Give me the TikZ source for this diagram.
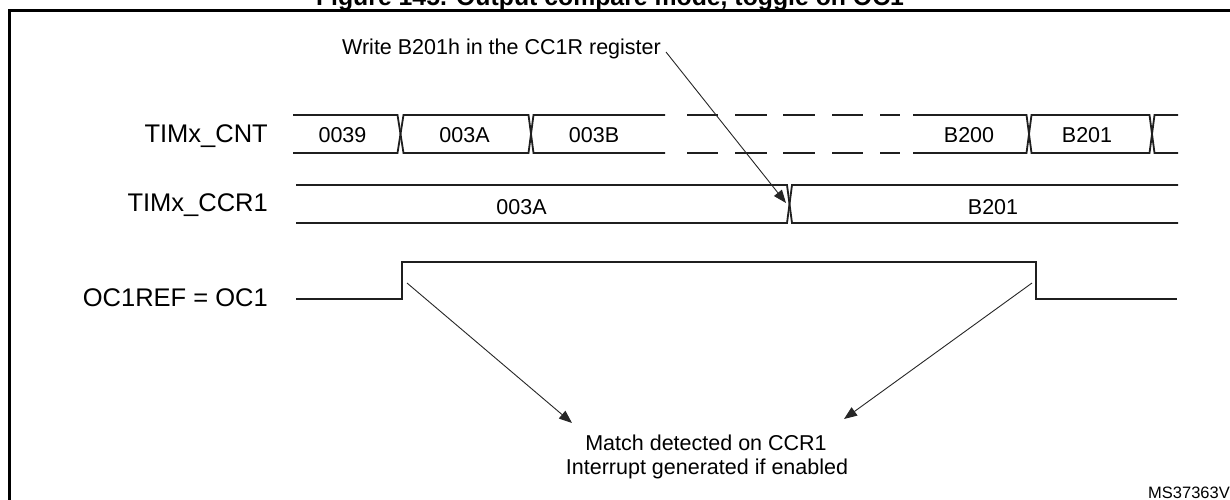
\documentclass[tikz,border=0pt]{standalone}
\usepackage{fontspec}
\setmainfont{Liberation Sans}
\usetikzlibrary{arrows.meta}
\begin{document}
\begin{tikzpicture}[x=1pt,y=-1pt,
  bus/.style={line width=1.8pt, draw=black!88, line join=miter},
  sig/.style={line width=2.2pt, draw=black!88},
  pointer/.style={line width=0.9pt, draw=black!85, -{Triangle[length=13pt,width=10pt]}},
  lbl/.style={font=\fontsize{25.5}{30}\selectfont, inner sep=0pt, anchor=base east},
  val/.style={font=\fontsize{21.5}{26}\selectfont, inner sep=0pt, anchor=base},
  frame/.style={line width=2.6pt, draw=black}]
\useasboundingbox (0,0) rectangle (1230,499);
\clip (0,0) rectangle (1230,499);

% title (cut off at top) and frame
\node[font=\bfseries\fontsize{24.8}{28}\selectfont, inner sep=0pt, anchor=base] (title) at (610,5.5) {Figure 145. Output compare mode, toggle on OC1};
\draw[frame] (9.5,530) -- (9.5,10.3) -- (1260,10.3);

% labels
\node[lbl] (lcnt) at (268,142) {TIMx\_CNT};
\node[lbl] (lccr) at (268,211) {TIMx\_CCR1};
\node[lbl] (loc) at (268,306.5) {OC1REF = OC1};

% TIMx_CNT bus
\draw[bus] (293,115) -- (397.5,115) -- (403.5,153) -- (528.5,153) -- (533.5,115) -- (665,115);
\draw[bus] (293,153) -- (397.5,153) -- (403.5,115) -- (528.5,115) -- (533.5,153) -- (665,153);
\foreach \a/\b in {687/718,735/767,783/815,832/863,880/900}{
  \draw[bus] (\a,115) -- (\b,115);
  \draw[bus] (\a,153) -- (\b,153);
}
\draw[bus] (913,115) -- (1026.5,115) -- (1031.5,153) -- (1149.5,153) -- (1154.5,115) -- (1178,115);
\draw[bus] (913,153) -- (1026.5,153) -- (1031.5,115) -- (1149.5,115) -- (1154.5,153) -- (1178,153);
\node[val] (c0039) at (342.5,142) {0039};
\node[val] (c003A) at (464.5,142) {003A};
\node[val] (c003B) at (594,142) {003B};
\node[val] (cB200) at (969,142) {B200};
\node[val] (cB201) at (1087,142) {B201};

% TIMx_CCR1 bus
\draw[bus] (296,185) -- (787,185) -- (792,223) -- (1178,223);
\draw[bus] (296,223) -- (787,223) -- (792,185) -- (1178,185);
\node[val] (r003A) at (521.5,214) {003A};
\node[val] (rB201) at (993,214) {B201};

% OC1REF signal
\draw[sig] (296,299) -- (402,299) -- (402,262) -- (1036,262) -- (1036,299) -- (1177,299);

% annotations
\node[val] (write) at (501.5,54) {Write B201h in the CC1R register};
\coordinate (wsrc) at (666,52);
\coordinate (ccrx) at (786,203);
\draw[pointer] (wsrc) -- (ccrx);

\node[val] (match) at (706,450) {Match detected on CCR1};
\node[val] (irq) at (707,474) {Interrupt generated if enabled};
\coordinate (rise) at (407,283);
\coordinate (fall) at (1032,283);
\coordinate (m1) at (572,423);
\coordinate (m2) at (844,419);
\draw[pointer] (rise) -- (m1);
\draw[pointer] (fall) -- (m2);

\node[font=\fontsize{16.5}{20}\selectfont, inner sep=0pt, anchor=base west] (ref) at (1148,498) {MS37363V1};
\end{tikzpicture}
\end{document}
